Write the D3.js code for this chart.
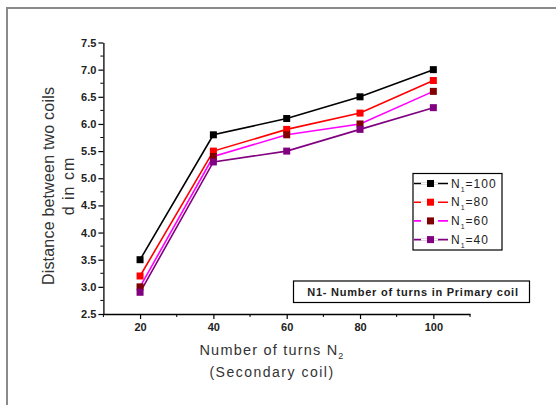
<!DOCTYPE html>
<html><head><meta charset="utf-8">
<script src="https://cdn.jsdelivr.net/npm/d3@7"></script>
<style>body{margin:0;background:#fff}svg{display:block}</style>
</head><body>
<script>
const categories = [20, 40, 60, 80, 100];
const seriesNames = ["N1=100", "N1=80", "N1=60", "N1=40"];
const n100 = [3.5, 5.8, 6.1, 6.5, 7.0];
const n80 = [3.2, 5.5, 5.9, 6.2, 6.8];
const n60 = [3.0, 5.4, 5.8, 6.0, 6.6];
const n40 = [2.9, 5.3, 5.5, 5.9, 6.3];
const yTicks = [2.5, 3.0, 3.5, 4.0, 4.5, 5.0, 5.5, 6.0, 6.5, 7.0, 7.5];
const xTicks = [20, 40, 60, 80, 100];
const legendSubs = ["100", "80", "60", "40"];
const lineColors = ["#000000", "#ff0000", "#ff00ff", "#800080"];
const markerColors = ["#000000", "#ff0000", "#800000", "#800080"];

const W = 556, H = 405;
const svg = d3.select("body").append("svg").attr("width", W).attr("height", H);

// outer frame
svg.append("rect").attr("x", 7).attr("y", 8).attr("width", W + 10).attr("height", H + 10)
  .attr("fill", "none").attr("stroke", "#8a8a8a").attr("stroke-width", 2);

const x = d3.scaleLinear().domain([10, 110]).range([103.4, 470]);
const y = d3.scaleLinear().domain([2.5, 7.5]).range([314, 42.5]);

const font = "Arial, 'Liberation Sans', sans-serif";

// Y axis
const yAxis = svg.append("g").attr("transform", `translate(${x(10)},0)`)
  .call(d3.axisLeft(y).tickValues(yTicks).tickFormat(d3.format(".1f")).tickSize(5).tickSizeOuter(0));
yAxis.select(".domain").attr("stroke", "#000").attr("stroke-width", 1.3);
yAxis.selectAll(".tick line").attr("stroke", "#000").attr("stroke-width", 1.2);
yAxis.selectAll(".tick text").attr("font-family", font).attr("font-weight", "bold")
  .attr("font-size", 11).attr("fill", "#222").attr("x", -7);
const yMinor = d3.range(2.75, 7.5, 0.5);
yAxis.selectAll(".minor").data(yMinor).enter().append("line")
  .attr("x1", 0).attr("x2", -3).attr("y1", d => y(d)).attr("y2", d => y(d))
  .attr("stroke", "#000").attr("stroke-width", 1);

// X axis
const xAxis = svg.append("g").attr("transform", `translate(0,${y(2.5)})`)
  .call(d3.axisBottom(x).tickValues(xTicks).tickSize(5).tickSizeOuter(0));
xAxis.select(".domain").attr("stroke", "#000").attr("stroke-width", 1.3);
xAxis.selectAll(".tick line").attr("stroke", "#000").attr("stroke-width", 1.2);
xAxis.selectAll(".tick text").attr("font-family", font).attr("font-weight", "bold")
  .attr("font-size", 11).attr("fill", "#222").attr("y", 9);
const xMinor = [10, 30, 50, 70, 90, 110];
xAxis.selectAll(".minor").data(xMinor).enter().append("line")
  .attr("x1", d => x(d)).attr("x2", d => x(d)).attr("y1", 0).attr("y2", 3)
  .attr("stroke", "#000").attr("stroke-width", 1);

// Axis titles
svg.append("text").attr("transform", "translate(54,186) rotate(-90)")
  .attr("text-anchor", "middle").attr("font-family", font).attr("font-size", 16).attr("fill", "#333")
  .attr("letter-spacing", 0.2)
  .text("Distance between two coils");
svg.append("text").attr("transform", "translate(74,186) rotate(-90)")
  .attr("text-anchor", "middle").attr("font-family", font).attr("font-size", 16).attr("fill", "#333")
  .attr("letter-spacing", 1)
  .text("d in cm");

const xt = svg.append("text").attr("x", 272).attr("y", 355).attr("text-anchor", "middle")
  .attr("font-family", font).attr("font-size", 14.5).attr("fill", "#333").attr("letter-spacing", 1.2);
xt.append("tspan").text("Number of turns N");
xt.append("tspan").attr("dy", 4).attr("font-size", 9).text("2");
svg.append("text").attr("x", 272).attr("y", 377).attr("text-anchor", "middle")
  .attr("font-family", font).attr("font-size", 14).attr("fill", "#333").attr("letter-spacing", 1.5)
  .text("(Secondary coil)");

// Series
const allSeries = [n100, n80, n60, n40];
const line = d3.line().x((d, i) => x(categories[i])).y(d => y(d));
allSeries.forEach((s, k) => {
  svg.append("path").datum(s).attr("d", line).attr("fill", "none")
    .attr("stroke", lineColors[k]).attr("stroke-width", 1.6);
});
allSeries.forEach((s, k) => {
  svg.selectAll(null).data(s).enter().append("rect")
    .attr("x", (d, i) => x(categories[i]) - 3.5).attr("y", d => y(d) - 3.5)
    .attr("width", 7).attr("height", 7).attr("fill", markerColors[k]);
});

// Legend
const lg = svg.append("g");
lg.append("rect").attr("x", 413).attr("y", 173.5).attr("width", 89).attr("height", 76.5)
  .attr("fill", "#fff").attr("stroke", "#000").attr("stroke-width", 1.2);
seriesNames.forEach((name, k) => {
  const ly = 183.5 + k * 18.7;
  lg.append("line").attr("x1", 414).attr("x2", 448).attr("y1", ly).attr("y2", ly)
    .attr("stroke", lineColors[k]).attr("stroke-width", 1.6);
  lg.append("rect").attr("x", 427).attr("y", ly - 3.5).attr("width", 7).attr("height", 7)
    .attr("fill", markerColors[k]);
  lg.append("line").attr("x1", 421).attr("x2", 427).attr("y1", ly).attr("y2", ly).attr("stroke", "#fff").attr("stroke-width", 2);
  lg.append("line").attr("x1", 434).attr("x2", 438).attr("y1", ly).attr("y2", ly).attr("stroke", "#fff").attr("stroke-width", 2);
  const t = lg.append("text").attr("x", 451).attr("y", ly + 4).attr("font-family", font)
    .attr("font-size", 12).attr("fill", "#222").attr("letter-spacing", 1);
  t.append("tspan").text("N");
  t.append("tspan").attr("dy", 4).attr("font-size", 7).text("1");
  t.append("tspan").attr("dy", -4).text("=" + legendSubs[k]);
});

// Annotation box
svg.append("rect").attr("x", 293.5).attr("y", 281).attr("width", 236).attr("height", 21.5)
  .attr("fill", "#fff").attr("stroke", "#000").attr("stroke-width", 1.2);
svg.append("text").attr("x", 413).attr("y", 296).attr("text-anchor", "middle")
  .attr("font-family", font).attr("font-size", 11).attr("font-weight", "bold").attr("fill", "#222")
  .attr("letter-spacing", 0.75)
  .text("N1- Number of turns in Primary coil");
</script>
</body></html>
